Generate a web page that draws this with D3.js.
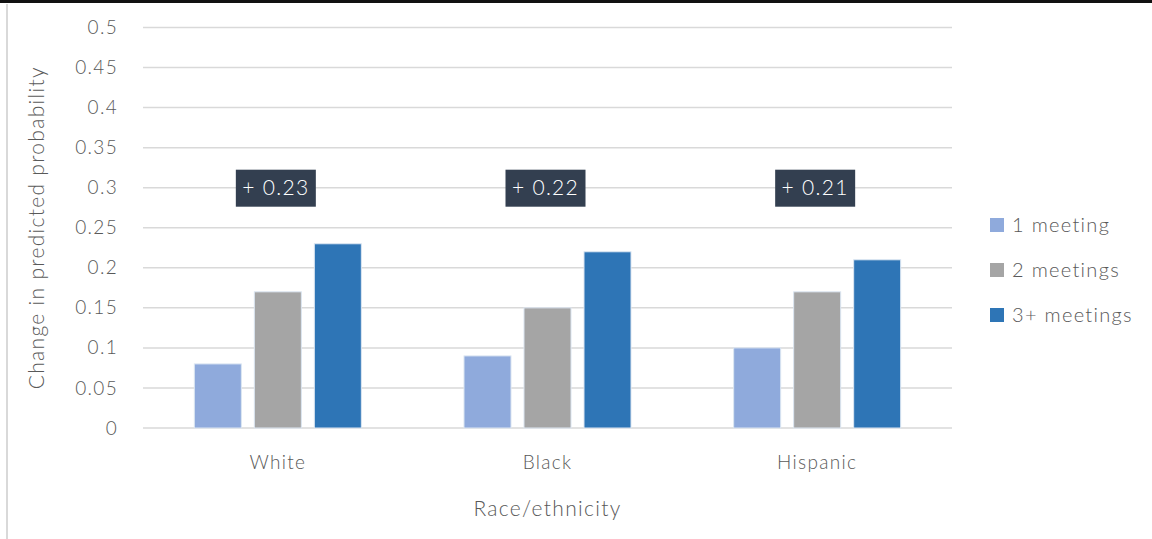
<!DOCTYPE html>
<html>
<head>
<meta charset="utf-8">
<script src="https://cdn.jsdelivr.net/npm/d3@7"></script>
<style>
  html, body { margin: 0; padding: 0; background: #fff; }
  svg { display: block; font-family: Lato, "Open Sans", sans-serif; font-weight: 300; }
  svg text { letter-spacing: 1.3px; }
</style>
</head>
<body>
<svg id="chart" width="1152" height="539"></svg>
<script>
// Categories, series and values
const categories = ["White", "Black", "Hispanic"];
const seriesNames = ["1 meeting", "2 meetings", "3+ meetings"];
const oneMeeting = [0.08, 0.09, 0.10];
const twoMeetings = [0.17, 0.15, 0.17];
const threeMeetings = [0.23, 0.22, 0.21];
const annotations = ["+ 0.23", "+ 0.22", "+ 0.21"];
const annotationLevel = 0.3;
const yTicks = [0, 0.05, 0.1, 0.15, 0.2, 0.25, 0.3, 0.35, 0.4, 0.45, 0.5];
const colors = ["#8FAADC", "#A5A5A5", "#2E75B6"];

const seriesValues = [oneMeeting, twoMeetings, threeMeetings];

const svg = d3.select("#chart");
const W = 1152, H = 539;
const plot = { left: 143, right: 952, top: 27.5, bottom: 428 };

// frame: dark top rule and light left edge
svg.append("rect").attr("x", 0).attr("y", 0).attr("width", W).attr("height", 3).attr("fill", "#111");
svg.append("rect").attr("x", 6).attr("y", 4).attr("width", 2).attr("height", H - 4).attr("fill", "#D9D9D9");

const x0 = d3.scaleBand().domain(categories).range([plot.left, plot.right]).paddingInner(0).paddingOuter(0);
const y = d3.scaleLinear().domain([0, 0.5]).range([plot.bottom, plot.top]);

// gridlines
svg.append("g").selectAll("line").data(yTicks).join("line")
  .attr("x1", plot.left).attr("x2", plot.right)
  .attr("y1", d => y(d)).attr("y2", d => y(d))
  .attr("stroke", "#D9D9D9").attr("stroke-width", 1.5);

// y tick labels
const yAxis = d3.axisLeft(y).tickValues(yTicks).tickSize(0).tickPadding(0)
  .tickFormat(d => d3.format("")(+d.toFixed(2)));
const gy = svg.append("g").attr("transform", `translate(${118},0)`).call(yAxis);
gy.select(".domain").remove();
gy.selectAll("text").attr("fill", "#595959").style("font-size", "19px")
  .style("font-family", "Lato, 'Open Sans', sans-serif");

// bars
const barW = 47, gap = 13;
const groupW = barW * 3 + gap * 2;
const x1 = d3.scaleBand().domain(d3.range(3)).range([0, groupW]).paddingInner(gap / (barW + gap)).paddingOuter(0);

const groups = svg.append("g").selectAll("g").data(categories).join("g")
  .attr("transform", c => `translate(${x0(c) + x0.bandwidth() / 2 - groupW / 2},0)`);
groups.selectAll("rect").data((c, i) => seriesValues.map((s, k) => ({ k, v: s[i] }))).join("rect")
  .attr("x", d => x1(d.k)).attr("width", x1.bandwidth())
  .attr("y", d => y(d.v)).attr("height", d => y(0) - y(d.v))
  .attr("fill", d => colors[d.k])
  .attr("stroke", "#DCE6F2").attr("stroke-width", 1);

// x category labels
const xAxis = d3.axisBottom(x0).tickSize(0).tickPadding(0);
const gx = svg.append("g").attr("transform", `translate(0,${plot.bottom + 27})`).call(xAxis);
gx.select(".domain").remove();
gx.selectAll("text").attr("fill", "#595959").style("font-size", "19px")
  .style("font-family", "Lato, 'Open Sans', sans-serif");

// annotation boxes
const ann = svg.append("g").selectAll("g").data(categories).join("g")
  .attr("transform", c => `translate(${x0(c) + x0.bandwidth() / 2 - 2},${y(annotationLevel)})`);
ann.append("rect").attr("x", -40).attr("y", -18).attr("width", 80).attr("height", 37).attr("fill", "#333F50");
ann.append("text").text((c, i) => annotations[i])
  .attr("text-anchor", "middle").attr("dy", "0.36em")
  .attr("fill", "#fff").style("font-size", "21px");

// axis titles
svg.append("text").text("Race/ethnicity")
  .attr("x", x0("Black") + x0.bandwidth() / 2).attr("y", 516)
  .attr("text-anchor", "middle").attr("fill", "#595959").style("font-size", "21px");
svg.append("text").text("Change in predicted probability")
  .attr("transform", `translate(44,${(plot.top + plot.bottom) / 2}) rotate(-90)`)
  .attr("text-anchor", "middle").attr("fill", "#595959").style("font-size", "21px");

// legend
const legend = svg.append("g").selectAll("g").data(seriesNames).join("g")
  .attr("transform", (d, i) => `translate(990,${225 + i * 45})`);
legend.append("rect").attr("x", 0).attr("y", -7).attr("width", 14).attr("height", 14)
  .attr("fill", (d, i) => colors[i]);
legend.append("text").text(d => d).attr("x", 22).attr("dy", "0.36em")
  .attr("fill", "#595959").style("font-size", "20px");
</script>
</body>
</html>
